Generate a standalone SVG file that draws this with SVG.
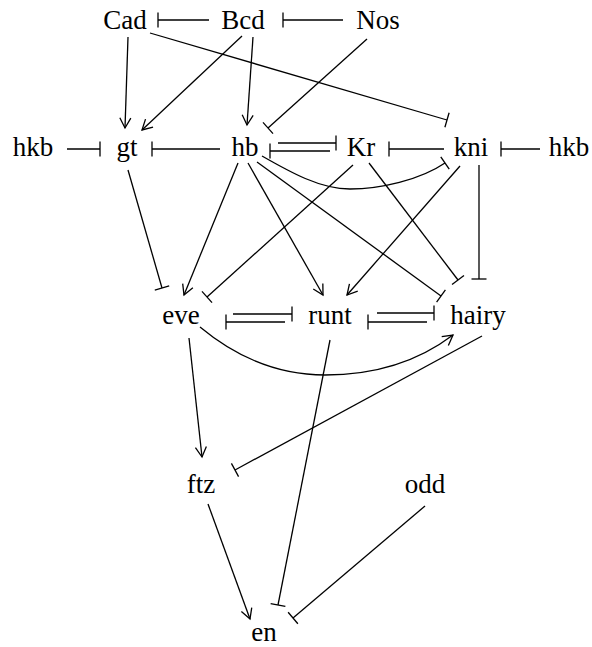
<svg xmlns="http://www.w3.org/2000/svg" width="592" height="647" viewBox="0 0 592 647">
<style>
text { font-family: "Liberation Serif", "Times New Roman", serif; font-size: 27px; fill: #000; text-anchor: middle; }
.e { fill: none; stroke: #000; stroke-width: 1.3; }
.a { marker-end: url(#arr); }
.t { marker-end: url(#tee); }
</style>
<defs>
<marker id="arr" markerUnits="userSpaceOnUse" markerWidth="12" markerHeight="14" refX="10" refY="0" orient="auto" overflow="visible" viewBox="0 -7 12 14">
<path d="M0,-5.5 L10,0 L0,5.5" fill="none" stroke="#000" stroke-width="1.3"/>
</marker>
<marker id="tee" markerUnits="userSpaceOnUse" markerWidth="4" markerHeight="16" refX="0" refY="0" orient="auto" overflow="visible" viewBox="-2 -8 4 16">
<path d="M0,-7.5 L0,7.5" fill="none" stroke="#000" stroke-width="1.3"/>
</marker>
</defs>
<g id="edges">
<path class="e t" d="M209,20 L158,20"/>
<path class="e t" d="M343,20 L283,20"/>
<path class="e a" d="M128,37 L125,128"/>
<path class="e a" d="M242,36 L142,130"/>
<path class="e a" d="M253,37 L247,125"/>
<path class="e t" d="M150,33 L447,120"/>
<path class="e t" d="M367,39 L268,128"/>
<path class="e t" d="M67,149 L100,149"/>
<path class="e t" d="M220,149 L152,149"/>
<path class="e t" d="M278,143 L336,143"/>
<path class="e t" d="M330,151 L270,151"/>
<path class="e t" d="M444,149 L389,149"/>
<path class="e t" d="M540,149 L501,149"/>
<path class="e t" d="M262,156 C290,172 320,189 350,189 S420,180 445,163"/>
<path class="e a" d="M238,163 L184,295"/>
<path class="e a" d="M248,163 L323,295"/>
<path class="e t" d="M257,162 L441,296"/>
<path class="e t" d="M353,165 L207,297"/>
<path class="e t" d="M369,163 L458,280"/>
<path class="e a" d="M460,166 L347,295"/>
<path class="e t" d="M479,165 L479,279"/>
<path class="e t" d="M128,170 L162,288"/>
<path class="e t" d="M233,314 L292,314"/>
<path class="e t" d="M285,322 L226,322"/>
<path class="e t" d="M377,313 L434,313"/>
<path class="e t" d="M427,322 L368,322"/>
<path class="e a" d="M200,327 C230,352 270,375 325,375 S420,360 453,335"/>
<path class="e t" d="M482,336 L235,470"/>
<path class="e a" d="M189,338 L202,457"/>
<path class="e t" d="M330,340 L278,605"/>
<path class="e a" d="M208,504 L250,619"/>
<path class="e t" d="M425,506 L293,618"/>
</g>
<g id="Cad"><text x="125" y="29">Cad</text></g>
<g id="Bcd"><text x="243" y="29">Bcd</text></g>
<g id="Nos"><text x="378" y="29">Nos</text></g>
<g id="hkb1"><text x="33" y="156">hkb</text></g>
<g id="gt"><text x="127" y="156">gt</text></g>
<g id="hb"><text x="245" y="156">hb</text></g>
<g id="Kr"><text x="361" y="156">Kr</text></g>
<g id="kni"><text x="471" y="156">kni</text></g>
<g id="hkb2"><text x="569" y="156">hkb</text></g>
<g id="eve"><text x="181" y="324">eve</text></g>
<g id="runt"><text x="330" y="324">runt</text></g>
<g id="hairy"><text x="478" y="324">hairy</text></g>
<g id="ftz"><text x="201" y="493">ftz</text></g>
<g id="odd"><text x="425" y="493">odd</text></g>
<g id="en"><text x="264" y="641">en</text></g>
</svg>
